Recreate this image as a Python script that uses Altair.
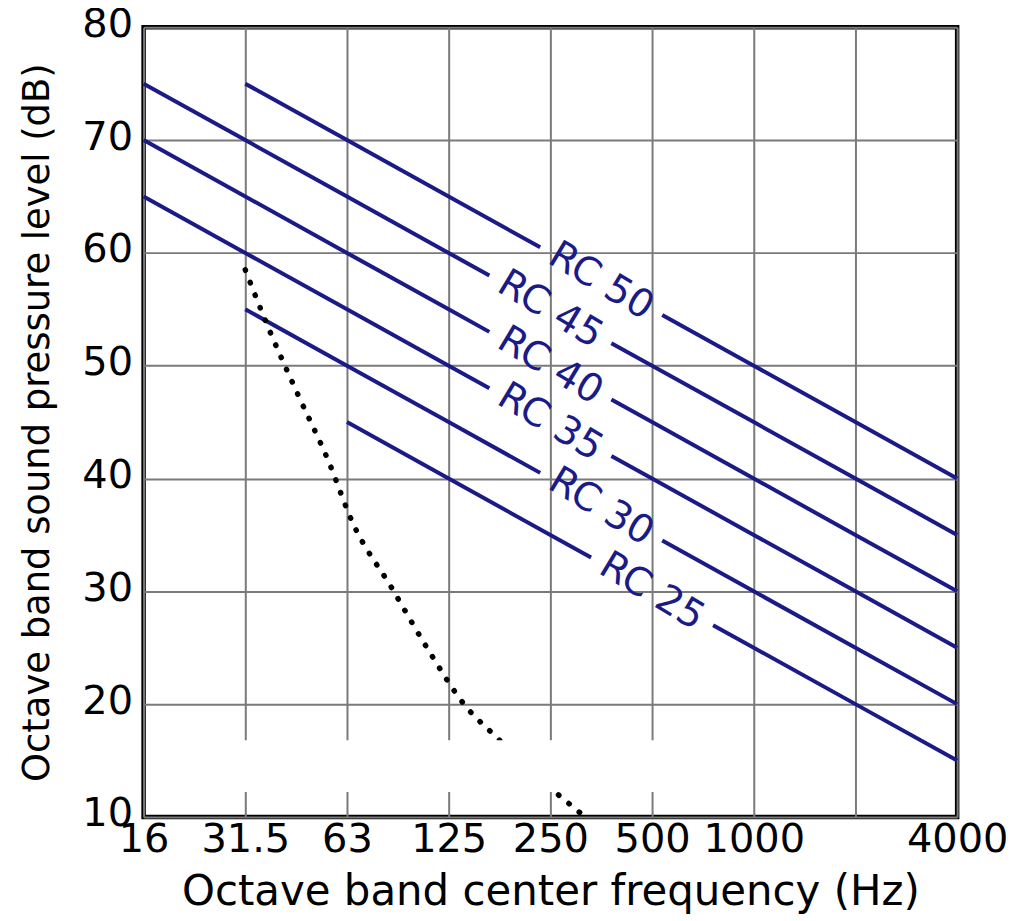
import altair as alt
import pandas as pd

# ---------------- data ----------------
band_index = [0, 1, 2, 3, 4, 5, 6, 7, 8]
band_labels = ["16", "31.5", "63", "125", "250", "500", "1000", "2000", "4000"]
tick_labels = ["16", "31.5", "63", "125", "250", "500", "1000", "", "4000"]

rc_names = ["RC 50", "RC 45", "RC 40", "RC 35", "RC 30", "RC 25"]
rc_50 = [None, 75, 70, 65, 60, 55, 50, 45, 40]
rc_45 = [75, 70, 65, 60, 55, 50, 45, 40, 35]
rc_40 = [70, 65, 60, 55, 50, 45, 40, 35, 30]
rc_35 = [65, 60, 55, 50, 45, 40, 35, 30, 25]
rc_30 = [None, 55, 50, 45, 40, 35, 30, 25, 20]
rc_25 = [None, None, 45, 40, 35, 30, 25, 20, 15]
rc_series = [rc_50, rc_45, rc_40, rc_35, rc_30, rc_25]

# band position (in octave steps) where each curve label sits, and the
# half-width (in octave steps) of the break in the line behind the label
label_band = [4.5, 4.0, 4.0, 4.0, 4.5, 5.0]
label_half_gap = 0.6

# dotted threshold curve
dotted_band = [1.0, 1.23, 1.52, 1.82, 2.05, 2.44, 2.8, 3.15, 3.5, 3.8, 4.1, 4.34]
dotted_level = [58.5, 53.3, 47.4, 41.5, 36.2, 30.3, 24.8, 20.0, 16.8, 14.0, 11.8, 10.0]

# faded watermark band that hides the grid near the bottom
watermark_band = [0.3, 5.4]
watermark_level = [12.2, 16.8]

y_ticks = [10, 20, 30, 40, 50, 60, 70, 80]

NAVY = "#1b1b88"
FONT = "DejaVu Sans"


# ---------------- tables ----------------
def level_at(series, pos):
    i = int(pos)
    f = pos - i
    if f == 0 or i + 1 >= len(series):
        return series[i]
    return series[i] + (series[i + 1] - series[i]) * f


rows = []
for name, series, lb in zip(rc_names, rc_series, label_band):
    lo, hi = lb - label_half_gap, lb + label_half_gap
    pts = [(b, v) for b, v in zip(band_index, series) if v is not None]
    seg_a = [(b, v) for b, v in pts if b < lo] + [(lo, level_at(series, lo))]
    seg_b = [(hi, level_at(series, hi))] + [(b, v) for b, v in pts if b > hi]
    for seg_id, seg in (("a", seg_a), ("b", seg_b)):
        for b, v in seg:
            rows.append({"band": b, "level": v, "seg": name + seg_id})
lines_df = pd.DataFrame(rows)

labels_df = pd.DataFrame({
    "band": label_band,
    "level": [level_at(s, p) for s, p in zip(rc_series, label_band)],
    "rc": rc_names,
})

dotted_df = pd.DataFrame({"band": dotted_band, "level": dotted_level})
wm_df = pd.DataFrame({
    "band": [watermark_band[0]], "band2": [watermark_band[1]],
    "level": [watermark_level[0]], "level2": [watermark_level[1]],
})

label_expr = "[" + ",".join("'%s'" % s for s in tick_labels) + "][datum.value]"

x_enc = alt.X(
    "band:Q",
    scale=alt.Scale(domain=[0, 8], nice=False, zero=False),
    axis=alt.Axis(
        values=band_index, labelExpr=label_expr,
        title="Octave band center frequency (Hz)",
        grid=True, ticks=False, tickSize=0, domain=False,
        labelPadding=3, titlePadding=12, labelFlush=False, labelOverlap=False,
        labelFontSize=40, titleFontSize=42,
    ),
)
y_enc = alt.Y(
    "level:Q",
    scale=alt.Scale(domain=[10, 80], nice=False, zero=False),
    axis=alt.Axis(
        values=y_ticks, title="Octave band sound pressure level (dB)",
        grid=True, ticks=False, tickSize=0, domain=False,
        labelPadding=11, titlePadding=25, labelOffset=-3,
        labelFlush=False, labelOverlap=False,
        labelFontSize=40, titleFontSize=37,
    ),
)

lines = alt.Chart(lines_df).mark_line(color=NAVY, strokeWidth=4).encode(
    x=x_enc, y=y_enc, detail="seg:N"
)

dotted = alt.Chart(dotted_df).mark_line(
    color="black", strokeWidth=5.5, strokeDash=[0.5, 13], strokeCap="round",
    interpolate="monotone",
).encode(x=x_enc, y=y_enc)

watermark = alt.Chart(wm_df).mark_rect(color="white", opacity=1).encode(
    x=x_enc, x2="band2:Q", y=y_enc, y2="level2:Q"
)

text = alt.Chart(labels_df).mark_text(
    angle=31, fontSize=39, font=FONT, align="center", baseline="middle",
    color=NAVY,
).encode(x=x_enc, y=y_enc, text="rc:N")

chart = alt.layer(lines, dotted, watermark, text).properties(
    width=816, height=792,
    autosize=alt.AutoSizeParams(type="none"),
    padding={"left": 136, "top": 18, "right": 50, "bottom": 97},
).configure_axis(
    labelFont=FONT, titleFont=FONT, labelColor="black", titleColor="black",
    titleFontWeight="normal", gridColor="#7a7a7a", gridWidth=2, gridOpacity=1,
).configure_view(
    stroke="black", strokeWidth=4.5
)

chart.save("out.html", embed_options={"renderer": "svg", "actions": False})
